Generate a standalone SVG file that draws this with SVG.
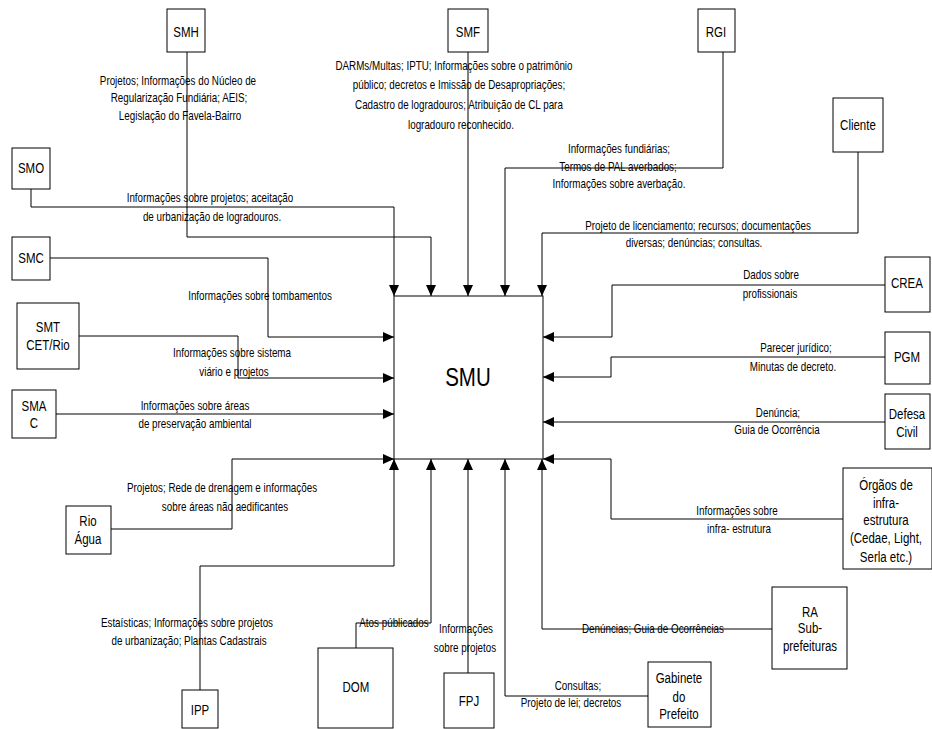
<svg xmlns="http://www.w3.org/2000/svg" width="932" height="729" viewBox="0 0 932 729">
  <style>
    .box { fill: #fff; stroke: #000; stroke-width: 1; }
    .wire { fill: none; stroke: #000; stroke-width: 1; marker-end: url(#arrow); }
    /* narrow lettering: texts are squeezed horizontally about the origin,
       so their x values are given in the squeezed space (x / factor) */
    text { font-family: "Liberation Sans", Arial, sans-serif; fill: #000; text-anchor: middle; }
    .lbl { font-size: 13px; transform: scale(0.757, 1); }
    .name { font-size: 14px; transform: scale(0.82, 1); }
    .main { font-size: 25px; transform: scale(0.82, 1); }
  </style>
  <defs>
    <marker id="arrow" markerUnits="userSpaceOnUse" markerWidth="11" markerHeight="10" refX="11" refY="5" orient="auto">
      <path d="M0,0 L11,5 L0,10 z" fill="#000"/>
    </marker>
  </defs>
  <rect width="932" height="729" fill="#fff"/>

  <!-- connectors -->
  <g id="connectors">
    <path class="wire" d="M31,189 V207 H394 V296"/>
    <path class="wire" d="M187,52 V237 H431 V296"/>
    <path class="wire" d="M468,52 V296"/>
    <path class="wire" d="M723,52 V168 H505 V296"/>
    <path class="wire" d="M858,152 V233 H542 V296"/>
    <path class="wire" d="M50,258 H268 V337 H394"/>
    <path class="wire" d="M79,336 H238 V378 H394"/>
    <path class="wire" d="M56,414 H394"/>
    <path class="wire" d="M111,529 H232 V459 H394"/>
    <path class="wire" d="M200,690 V566 H394 V459"/>
    <path class="wire" d="M356,648 V623 H431 V459"/>
    <path class="wire" d="M468,673 V459"/>
    <path class="wire" d="M648,696 H505 V459"/>
    <path class="wire" d="M772,629 H542 V459"/>
    <path class="wire" d="M843,519 H611 V459 H543"/>
    <path class="wire" d="M885,422 H543"/>
    <path class="wire" d="M885,357 H611 V377 H543"/>
    <path class="wire" d="M885,285 H612 V337 H543"/>
  </g>

  <!-- connector labels -->
  <g id="labels">
    <text class="lbl" x="235.1" y="85">Projetos; Informações do Núcleo de</text>
    <text class="lbl" x="236.5" y="102">Regularização Fundiária; AEIS;</text>
    <text class="lbl" x="237.8" y="120">Legislação do Favela-Bairro</text>

    <text class="lbl" x="599.7" y="70">DARMs/Multas; IPTU; Informações sobre o patrimônio</text>
    <text class="lbl" x="606.3" y="89">público; decretos e Imissão de Desapropriações;</text>
    <text class="lbl" x="606.3" y="109">Cadastro de logradouros; Atribuição de CL para</text>
    <text class="lbl" x="609.0" y="129">logradouro reconhecido.</text>

    <text class="lbl" x="817.7" y="153">Informações fundiárias;</text>
    <text class="lbl" x="816.4" y="171">Termos  de PAL averbados;</text>
    <text class="lbl" x="817.7" y="188">Informações sobre averbação.</text>

    <text class="lbl" x="922.1" y="230">Projeto de licenciamento;  recursos;  documentações</text>
    <text class="lbl" x="916.8" y="247">diversas;  denúncias; consultas.</text>

    <text class="lbl" x="277.4" y="202">Informações sobre projetos;  aceitação</text>
    <text class="lbl" x="280.1" y="221">de urbanização de logradouros.</text>

    <text class="lbl" x="343.5" y="300">Informações sobre tombamentos</text>

    <text class="lbl" x="306.5" y="357">Informações sobre sistema</text>
    <text class="lbl" x="309.1" y="376">viário e projetos</text>

    <text class="lbl" x="257.6" y="410">Informações sobre áreas</text>
    <text class="lbl" x="257.6" y="428">de preservação ambiental</text>

    <text class="lbl" x="293.3" y="492">Projetos; Rede de drenagem e informações</text>
    <text class="lbl" x="297.2" y="511">sobre áreas não aedificantes</text>

    <text class="lbl" x="247.0" y="627">Estaísticas; Informações sobre projetos</text>
    <text class="lbl" x="249.7" y="645">de urbanização; Plantas Cadastrais</text>

    <text class="lbl" x="520.5" y="627">Atos públicados</text>

    <text class="lbl" x="615.6" y="633">Informações</text>
    <text class="lbl" x="614.3" y="652">sobre projetos</text>

    <text class="lbl" x="763.5" y="690">Consultas;</text>
    <text class="lbl" x="754.3" y="707">Projeto de lei; decretos</text>

    <text class="lbl" x="862.6" y="633">Denúncias; Guia de Ocorrências</text>

    <text class="lbl" x="973.6" y="515">Informações  sobre</text>
    <text class="lbl" x="976.2" y="533">infra- estrutura</text>

    <text class="lbl" x="1027.7" y="417">Denúncia;</text>
    <text class="lbl" x="1026.4" y="434">Guia de Ocorrência</text>

    <text class="lbl" x="1051.5" y="352">Parecer  jurídico;</text>
    <text class="lbl" x="1047.6" y="371">Minutas de decreto.</text>

    <text class="lbl" x="1018.5" y="279">Dados sobre</text>
    <text class="lbl" x="1017.2" y="298">profissionais</text>
  </g>

  <!-- central node -->
  <g id="SMU">
    <rect class="box" x="394" y="296" width="149" height="163"/>
    <text class="main" x="570.7" y="386">SMU</text>
  </g>

  <!-- surrounding nodes -->
  <g id="SMH">
    <rect class="box" x="167" y="9" width="38" height="43"/>
    <text class="name" x="226.8" y="37">SMH</text>
  </g>
  <g id="SMF">
    <rect class="box" x="448" y="9" width="40" height="43"/>
    <text class="name" x="570.7" y="37">SMF</text>
  </g>
  <g id="RGI">
    <rect class="box" x="698" y="9" width="37" height="43"/>
    <text class="name" x="873.2" y="37">RGI</text>
  </g>
  <g id="Cliente">
    <rect class="box" x="833" y="98" width="50" height="54"/>
    <text class="name" x="1046.3" y="130">Cliente</text>
  </g>
  <g id="SMO">
    <rect class="box" x="12" y="148" width="38" height="41"/>
    <text class="name" x="37.8" y="173">SMO</text>
  </g>
  <g id="SMC">
    <rect class="box" x="12" y="237" width="38" height="43"/>
    <text class="name" x="37.8" y="263">SMC</text>
  </g>
  <g id="SMT">
    <rect class="box" x="17" y="303" width="62" height="66"/>
    <text class="name" x="58.5" y="332">SMT</text>
    <text class="name" x="58.5" y="350">CET/Rio</text>
  </g>
  <g id="SMAC">
    <rect class="box" x="12" y="390" width="44" height="48"/>
    <text class="name" x="41.5" y="411">SMA</text>
    <text class="name" x="41.5" y="428">C</text>
  </g>
  <g id="RioAgua">
    <rect class="box" x="66" y="506" width="45" height="48"/>
    <text class="name" x="107.3" y="526">Rio</text>
    <text class="name" x="107.3" y="544">Água</text>
  </g>
  <g id="IPP">
    <rect class="box" x="182" y="690" width="36" height="38"/>
    <text class="name" x="243.9" y="715">IPP</text>
  </g>
  <g id="DOM">
    <rect class="box" x="318" y="648" width="75" height="80"/>
    <text class="name" x="434.1" y="692">DOM</text>
  </g>
  <g id="FPJ">
    <rect class="box" x="444" y="673" width="50" height="55"/>
    <text class="name" x="572.0" y="706">FPJ</text>
  </g>
  <g id="Gabinete">
    <rect class="box" x="648" y="662" width="63" height="65"/>
    <text class="name" x="828.0" y="683">Gabinete</text>
    <text class="name" x="828.0" y="702">do</text>
    <text class="name" x="828.0" y="719">Prefeito</text>
  </g>
  <g id="RA">
    <rect class="box" x="772" y="587" width="75" height="82"/>
    <text class="name" x="987.8" y="617">RA</text>
    <text class="name" x="987.8" y="633">Sub-</text>
    <text class="name" x="987.8" y="651">prefeituras</text>
  </g>
  <g id="Orgaos">
    <rect class="box" x="843" y="468" width="89" height="101"/>
    <text class="name" x="1080.5" y="490">Órgãos de</text>
    <text class="name" x="1080.5" y="508">infra-</text>
    <text class="name" x="1080.5" y="525">estrutura</text>
    <text class="name" x="1080.5" y="543">(Cedae, Light,</text>
    <text class="name" x="1080.5" y="562">Serla etc.)</text>
  </g>
  <g id="CREA">
    <rect class="box" x="885" y="257" width="45" height="55"/>
    <text class="name" x="1106.1" y="288">CREA</text>
  </g>
  <g id="PGM">
    <rect class="box" x="885" y="332" width="45" height="52"/>
    <text class="name" x="1106.1" y="362">PGM</text>
  </g>
  <g id="Defesa">
    <rect class="box" x="885" y="394" width="45" height="55"/>
    <text class="name" x="1106.1" y="419">Defesa</text>
    <text class="name" x="1106.1" y="437">Civil</text>
  </g>
</svg>
